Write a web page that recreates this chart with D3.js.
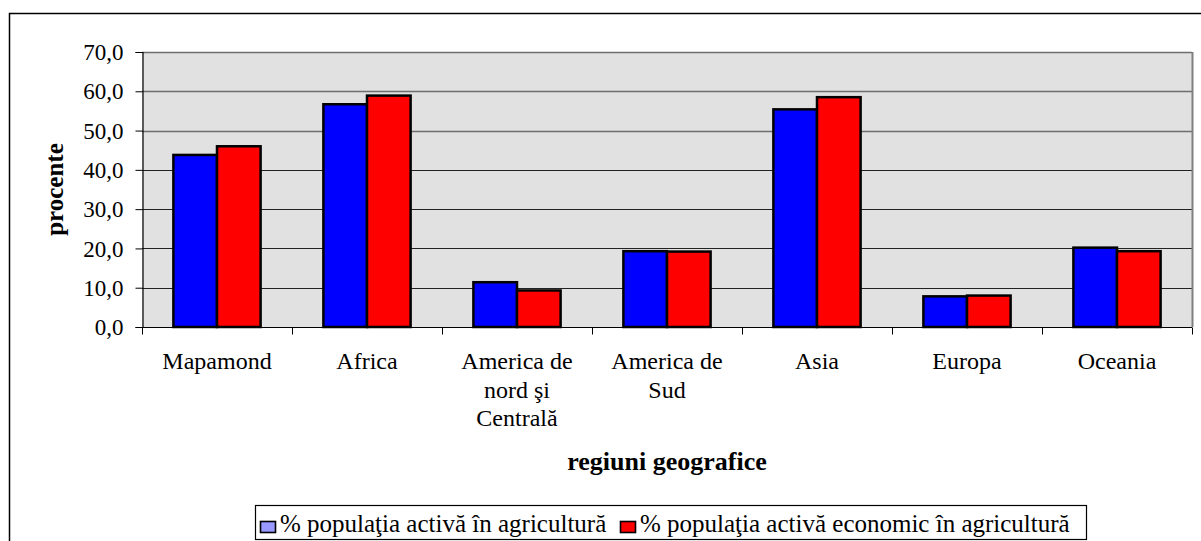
<!DOCTYPE html>
<html>
<head>
    <meta charset="utf-8">
    <style>
        body { margin: 0; background: #fff; }
    </style>
</head>
<body>
<div id="chart"></div>
<script src="https://cdn.jsdelivr.net/npm/d3@7"></script>
<script>

    var categories = ["Mapamond", "Africa", "America de|nord şi|Centrală", "America de|Sud", "Asia", "Europa", "Oceania"];
    var seriesNames = ["% populaţia activă în agricultură", "% populaţia activă economic în agricultură"];
    var activeAgri = [43.8, 56.7, 11.4, 19.3, 55.4, 7.8, 20.2];
    var activeEconAgri = [46.0, 58.9, 9.3, 19.2, 58.5, 8.0, 19.3];
    var yTicks = [0, 10, 20, 30, 40, 50, 60, 70];

    var width = 1201, height = 541;
    var plot = {left: 142, top: 52, right: 1192, bottom: 327};
    // letter-spacing makes the renderer drop to a sans fallback, so none is used
    var FONT = "'Liberation Serif'";

    var svg = d3.select("#chart").append("svg")
        .attr("width", width)
        .attr("height", height)
        .style("font-family", FONT);

    // outer chart frame
    svg.append("rect")
        .attr("x", 9.5).attr("y", 13.5)
        .attr("width", 1300).attr("height", 600)
        .attr("fill", "#fff").attr("stroke", "#000").attr("stroke-width", 1.5);

    var x = d3.scaleBand()
        .domain(categories)
        .range([plot.left, plot.right]);

    var xInner = d3.scaleBand()
        .domain([0, 1])
        .range([0, x.bandwidth()])
        .paddingInner(0)
        .paddingOuter(0.72);

    var y = d3.scaleLinear()
        .domain([0, 70])
        .range([plot.bottom, plot.top]);

    // plot background
    svg.append("rect")
        .attr("x", plot.left).attr("y", plot.top)
        .attr("width", plot.right - plot.left).attr("height", plot.bottom - plot.top)
        .attr("fill", "#e1e1e1");

    // gridlines
    svg.append("g").selectAll("line")
        .data(yTicks.slice(1))
        .enter().append("line")
        .attr("x1", plot.left).attr("x2", plot.right)
        .attr("y1", function (d) { return Math.round(y(d)) + 0.5; })
        .attr("y2", function (d) { return Math.round(y(d)) + 0.5; })
        .attr("stroke", function (d) { return d >= 50 ? "#6e6e6e" : "#222"; })
        .attr("stroke-width", function (d) { return d >= 50 ? 1.6 : 1; });

    // right border of plot area
    svg.append("line")
        .attr("x1", plot.right + 0.5).attr("x2", plot.right + 0.5)
        .attr("y1", plot.top).attr("y2", plot.bottom)
        .attr("stroke", "#808080").attr("stroke-width", 2);

    // bars
    var series = [activeAgri, activeEconAgri];
    var colors = ["#0000ff", "#ff0000"];
    var legendColors = ["#9999ff", "#ff0000"];

    var groups = svg.append("g").selectAll("g")
        .data(categories)
        .enter().append("g")
        .attr("transform", function (d) { return "translate(" + x(d) + ",0)"; });

    groups.selectAll("rect")
        .data(function (d, i) { return series.map(function (s, k) { return {k: k, v: s[i]}; }); })
        .enter().append("rect")
        .attr("x", function (d) { return xInner(d.k); })
        .attr("y", function (d) { return y(d.v); })
        .attr("width", xInner.bandwidth())
        .attr("height", function (d) { return y(0) - y(d.v); })
        .attr("fill", function (d) { return colors[d.k]; })
        .attr("stroke", "#000")
        .attr("stroke-width", 2.5);

    // y axis
    var yAxis = svg.append("g")
        .attr("transform", "translate(" + (plot.left + 0.5) + ",0)")
        .call(d3.axisLeft(y).tickValues(yTicks).tickSize(7).tickPadding(12)
            .tickFormat(function (d) { return d3.format(".1f")(d).replace(".", ","); }));
    yAxis.attr("font-family", null).attr("font-size", null);
    yAxis.select(".domain").attr("stroke", "#000").attr("stroke-width", 1.2);
    yAxis.selectAll(".tick line").attr("stroke", "#000");
    yAxis.selectAll("text")
        .attr("fill", "#000")
        .style("font-family", FONT)
        .style("font-size", "23px")
        .attr("dy", "0.33em");

    // x axis
    var xAxisG = svg.append("g")
        .attr("transform", "translate(0," + (plot.bottom + 0.5) + ")");
    xAxisG.append("line")
        .attr("x1", plot.left).attr("x2", plot.right)
        .attr("stroke", "#000").attr("stroke-width", 1.2);
    var bounds = categories.map(function (c) { return x(c); }).concat([plot.right]);
    xAxisG.selectAll("line.tk")
        .data(bounds)
        .enter().append("line")
        .attr("class", "tk")
        .attr("x1", function (d) { return Math.round(d) + 0.5; })
        .attr("x2", function (d) { return Math.round(d) + 0.5; })
        .attr("y1", 0).attr("y2", 7)
        .attr("stroke", "#000");

    // category labels
    var catLabels = svg.append("g").selectAll("text")
        .data(categories)
        .enter().append("text")
        .style("font-family", FONT)
        .style("font-size", "24px")
        .attr("text-anchor", "middle")
        .attr("x", function (d) { return x(d) + x.bandwidth() / 2; })
        .attr("y", 369);
    catLabels.selectAll("tspan")
        .data(function (d) { return d.split("|"); })
        .enter().append("tspan")
        .attr("x", function () { return this.parentNode.getAttribute("x"); })
        .attr("dy", function (d, i) { return i === 0 ? 0 : 28.5; })
        .text(function (d) { return d; });

    // axis titles
    svg.append("text")
        .style("font-family", FONT)
        .style("font-size", "25px")
        .style("font-weight", "bold")
        .attr("text-anchor", "middle")
        .attr("transform", "translate(63," + ((plot.top + plot.bottom) / 2) + ") rotate(-90)")
        .text("procente");

    svg.append("text")
        .style("font-family", FONT)
        .style("font-size", "26px")
        .style("font-weight", "bold")
        .attr("text-anchor", "middle")
        .attr("x", (plot.left + plot.right) / 2)
        .attr("y", 470)
        .text("regiuni geografice");

    // legend
    var legend = svg.append("g");
    legend.append("rect")
        .attr("x", 255.5).attr("y", 505.5)
        .attr("width", 831).attr("height", 34)
        .attr("fill", "#fff").attr("stroke", "#000").attr("stroke-width", 1.2);
    var legendX = [260, 620];
    seriesNames.forEach(function (name, k) {
        legend.append("rect")
            .attr("x", legendX[k] + 0.5).attr("y", 521.5)
            .attr("width", 15).attr("height", 11)
            .attr("fill", legendColors[k]).attr("stroke", "#000").attr("stroke-width", 1.6);
        legend.append("text")
            .style("font-family", FONT)
            .style("font-size", "25px")
            .attr("x", legendX[k] + 20)
            .attr("y", 532)
            .text(name);
    });

</script>
</body>
</html>
